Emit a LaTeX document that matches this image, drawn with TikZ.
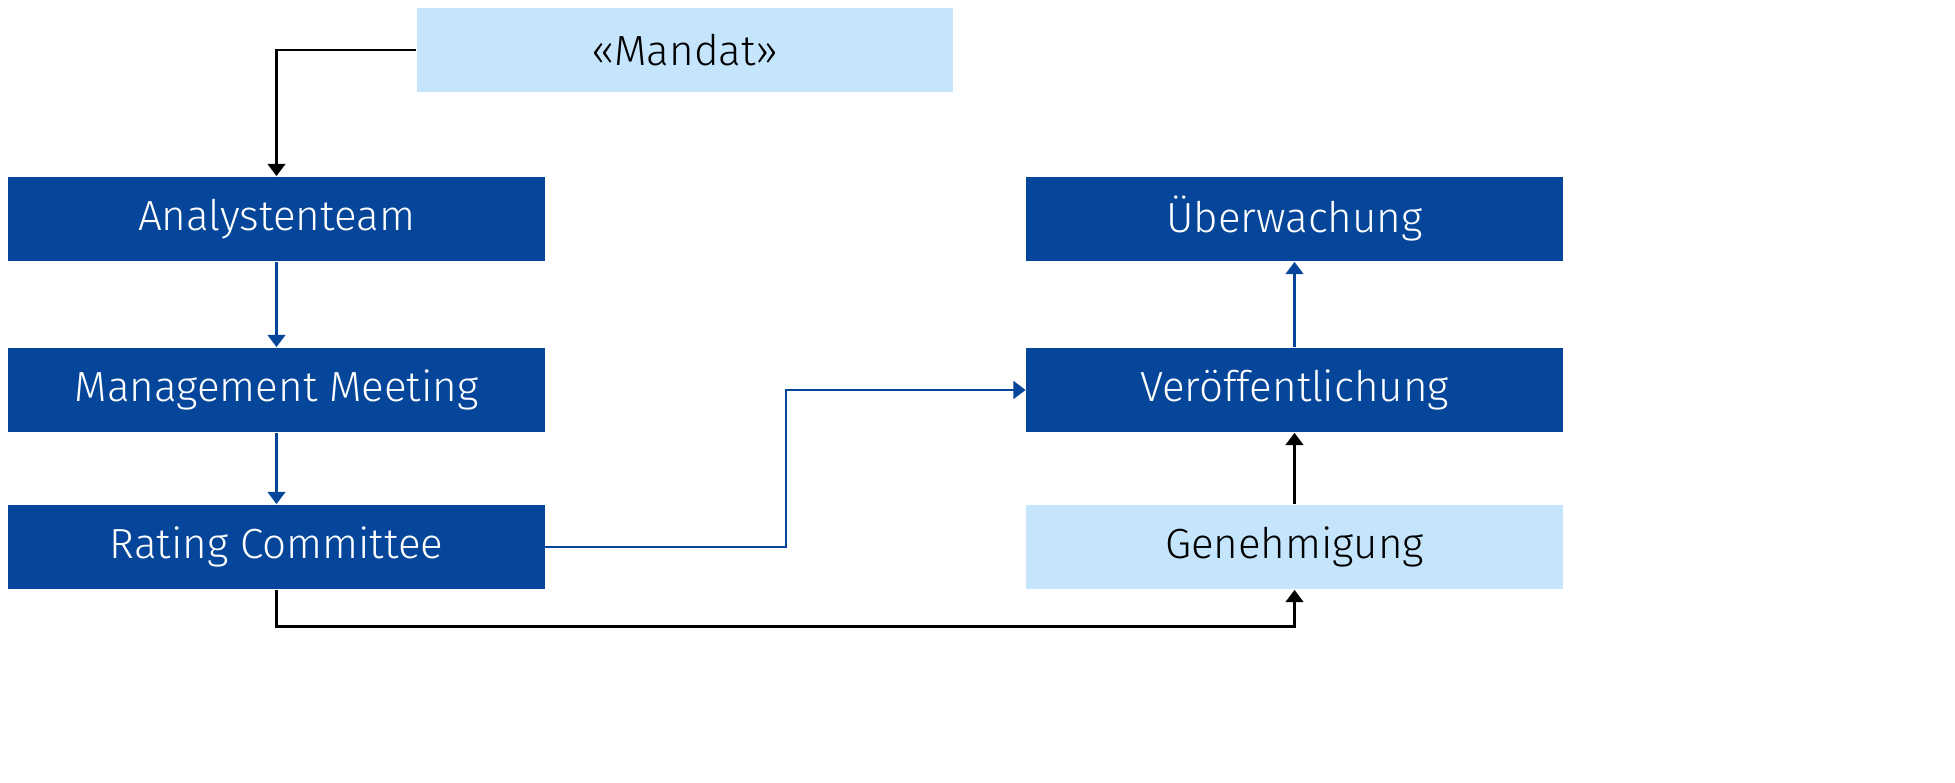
\documentclass[tikz,border=0pt]{standalone}
\usepackage{fontspec}
\setmainfont{Fira Sans}[UprightFont={* Light}]
\usepackage{xcolor}
\usepackage{tikz}
\usetikzlibrary{arrows.meta}
\usetikzlibrary{positioning}
\definecolor{ubsblue}{HTML}{05469A}
\definecolor{ubslight}{HTML}{C5E5FD}

\begin{document}
\begin{tikzpicture}[x=0.02cm, y=-0.02cm,
    dark/.style={fill=ubsblue, text=white, minimum width=10.74cm, minimum height=1.7cm, inner sep=0pt, font=\fontsize{24}{28}\selectfont},
    light/.style={dark, fill=ubslight, text=black},
    tip/.style={-{Triangle[length=7pt, width=10pt]}},
    blueline/.style={tip, ubsblue, line width=1.6pt},
    blackline/.style={tip, black, line width=1.6pt}]
    \useasboundingbox (0,0) rectangle (1955,783);
    \node [light] (mandat) at (685, 50) {«Mandat»};
    \node [dark] (analysten) at (276.5, 219) {Analystenteam};
    \node [dark] (management) at (276.5, 390) {Management Meeting};
    \node [dark] (rating) at (276.5, 547) {Rating Committee};
    \node [dark] (ueberwachung) at (1294.5, 219) {Überwachung};
    \node [dark] (veroeff) at (1294.5, 390) {Veröffentlichung};
    \node [light] (genehmigung) at (1294.5, 547) {Genehmigung};
    \draw [blackline] (mandat.west) -| (analysten.north);
    \draw [blueline] (analysten) -- (management);
    \draw [blueline] (management) -- (rating);
    \draw [blueline] (rating.east) -- (786, 547) |- (veroeff.west);
    \draw [blueline] (veroeff) -- (ueberwachung);
    \draw [blackline, line width=2.2pt] (genehmigung) -- (veroeff);
    \draw [blackline] (rating.south) -- ++(0, 37) -| (genehmigung.south);
  \end{tikzpicture}
\end{document}
